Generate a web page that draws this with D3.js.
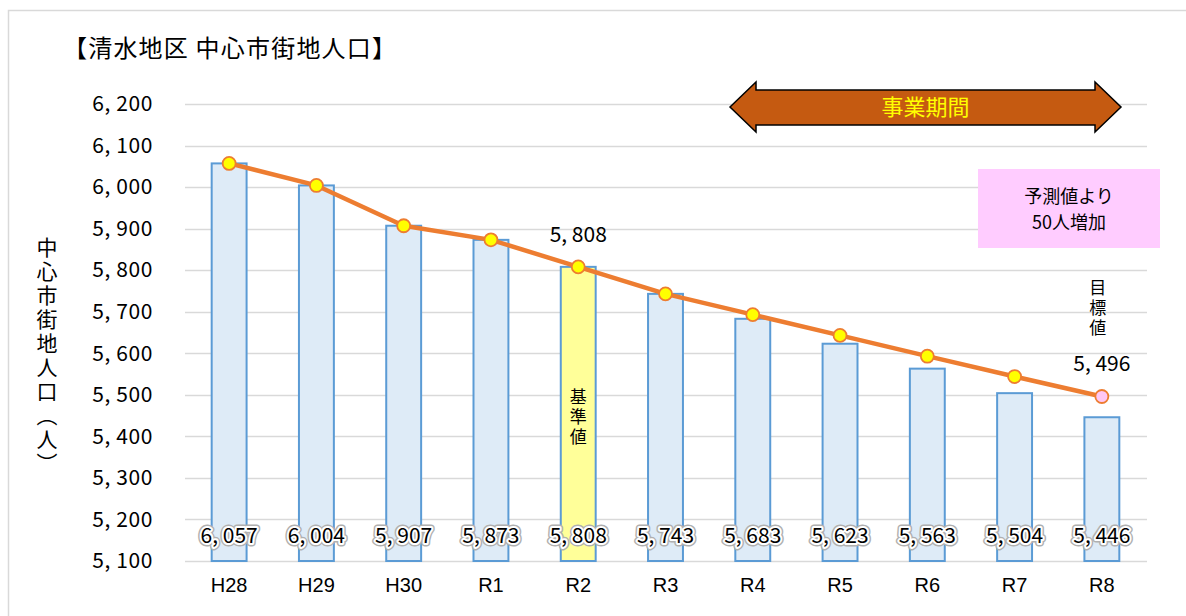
<!DOCTYPE html>
<html><head><meta charset="utf-8">
<script src="https://cdn.jsdelivr.net/npm/d3@7"></script>
<style>
body{margin:0;background:#fff;}
svg{display:block;font-family:"Noto Sans CJK JP","Noto Sans",sans-serif;}
</style></head><body>
<svg id="c" width="1186" height="616"></svg>
<script>
const categories = ["H28","H29","H30","R1","R2","R3","R4","R5","R6","R7","R8"];
const barValues = [6057,6004,5907,5873,5808,5743,5683,5623,5563,5504,5446];
const lineValues = [6057,6004,5907,5873,5808,5743,5693,5643,5593,5544,5496];
const yTicks = [5100,5200,5300,5400,5500,5600,5700,5800,5900,6000,6100,6200];
const title = "【清水地区 中心市街地人口】";
const yTitle = "中心市街地人口（人）";
const periodLabel = "事業期間";
const noteLines = ["予測値より","50人増加"];
const baseLabel = "基準値";
const targetLabel = "目標値";

const svg = d3.select("#c");
const fmt = v => d3.format(",")(v).replace(",", ", ");

// outer frame
svg.append("path").attr("d","M8.5,616 V10.5 H1186").attr("fill","none").attr("stroke","#d9d9d9").attr("stroke-width",1.5);

const x = d3.scaleBand().domain(categories).range([185.5,1145.5]).paddingInner(0.6).paddingOuter(0.3);
const y = d3.scaleLinear().domain([5100,6200]).range([561,104]);

// gridlines
svg.append("g").selectAll("line").data(yTicks).join("line")
  .attr("x1",185).attr("x2",1147).attr("y1",d=>Math.round(y(d))+0.5).attr("y2",d=>Math.round(y(d))+0.5)
  .attr("stroke","#d9d9d9").attr("stroke-width",1.5);

// y axis labels
const yAxis = d3.axisLeft(y).tickValues(yTicks).tickFormat(fmt).tickSize(0).tickPadding(0);
const ga = svg.append("g").attr("transform","translate(153,0)").call(yAxis);
ga.select(".domain").remove();
ga.selectAll("text").attr("font-size",21).attr("fill","#000").attr("font-family","Noto Sans CJK JP").attr("letter-spacing",0.6);

// x axis labels
const xAxis = d3.axisBottom(x).tickSize(0).tickPadding(0);
const gx = svg.append("g").attr("transform","translate(0,577)").call(xAxis);
gx.select(".domain").remove();
gx.selectAll("text").attr("font-size",20).attr("fill","#000").attr("dy","0.75em");

// bars
svg.append("g").selectAll("rect").data(categories).join("rect")
  .attr("x",d=>x(d)).attr("width",x.bandwidth())
  .attr("y",(d,i)=>y(barValues[i])).attr("height",(d,i)=>y(5100)-y(barValues[i]))
  .attr("fill",d=>d==="R2"?"#FFFF99":"#DEEBF7")
  .attr("stroke","#5B9BD5").attr("stroke-width",2);

// line
const line = d3.line().x((d,i)=>x(categories[i])+x.bandwidth()/2).y(d=>y(d));
svg.append("path").datum(lineValues).attr("d",line).attr("fill","none")
  .attr("stroke","#ED7D31").attr("stroke-width",4.5).attr("stroke-linejoin","round");
svg.append("g").selectAll("circle").data(lineValues).join("circle")
  .attr("cx",(d,i)=>x(categories[i])+x.bandwidth()/2).attr("cy",d=>y(d)).attr("r",6.5)
  .attr("fill",(d,i)=>i===lineValues.length-1?"#FFC7F5":"#FFFF00")
  .attr("stroke","#ED7D31").attr("stroke-width",1.8);

// bottom data labels with glow
const dl = svg.append("g");
[["#b0b0b0",7],["#ffffff",4]].forEach(([c,w])=>{
  dl.append("g").selectAll("text").data(barValues).join("text")
    .attr("x",(d,i)=>x(categories[i])+x.bandwidth()/2).attr("y",543)
    .attr("text-anchor","middle").attr("font-size",21).text(fmt)
    .attr("fill","none").attr("stroke",c).attr("stroke-width",w).attr("stroke-linejoin","round");
});
dl.append("g").selectAll("text").data(barValues).join("text")
  .attr("x",(d,i)=>x(categories[i])+x.bandwidth()/2).attr("y",543)
  .attr("text-anchor","middle").attr("font-size",21).attr("fill","#000").text(fmt);

// title
svg.append("text").attr("x",63).attr("y",57).attr("font-size",24).attr("letter-spacing",1.2).attr("fill","#000").text(title);

// vertical text helper
function vtext(txt, cx, top, size, spacing){
  return svg.append("text").attr("x",cx).attr("y",top)
    .style("writing-mode","vertical-rl").attr("text-anchor","start")
    .attr("font-size",size).attr("letter-spacing",spacing).attr("fill","#000").text(txt);
}
vtext(yTitle, 47, 237, 21, 3);

// R2 labels
const cx2 = x("R2")+x.bandwidth()/2;
svg.append("text").attr("x",cx2).attr("y",242).attr("text-anchor","middle").attr("font-size",21).text(fmt(lineValues[4]));
vtext(baseLabel, cx2, 388, 17, 3);

// R8 labels
const cx8 = x("R8")+x.bandwidth()/2;
vtext(targetLabel, cx8-4, 279, 17, 3);
svg.append("text").attr("x",cx8).attr("y",371).attr("text-anchor","middle").attr("font-size",21).text(fmt(lineValues[10]));

// period arrow
const ax0 = 730, ax1 = 1121, ay = 107;
svg.append("path").attr("d",`M${ax0},${ay} L${ax0+26},${ay-25} L${ax0+26},${ay-17} L${ax1-26},${ay-17} L${ax1-26},${ay-25} L${ax1},${ay} L${ax1-26},${ay+25} L${ax1-26},${ay+18} L${ax0+26},${ay+18} L${ax0+26},${ay+25} Z`)
  .attr("fill","#C55A11").attr("stroke","#000").attr("stroke-width",1.5);
svg.append("text").attr("x",(ax0+ax1)/2).attr("y",ay+8).attr("text-anchor","middle").attr("font-size",22).attr("fill","#FFFF00").text(periodLabel);

// note box
svg.append("rect").attr("x",978).attr("y",169).attr("width",182).attr("height",79).attr("fill","#FFCCFF");
svg.append("g").selectAll("text").data(noteLines).join("text")
  .attr("x",1069).attr("y",(d,i)=>203+i*26).attr("text-anchor","middle").attr("font-size",18).attr("fill","#000").text(d=>d);
</script>
</body></html>
